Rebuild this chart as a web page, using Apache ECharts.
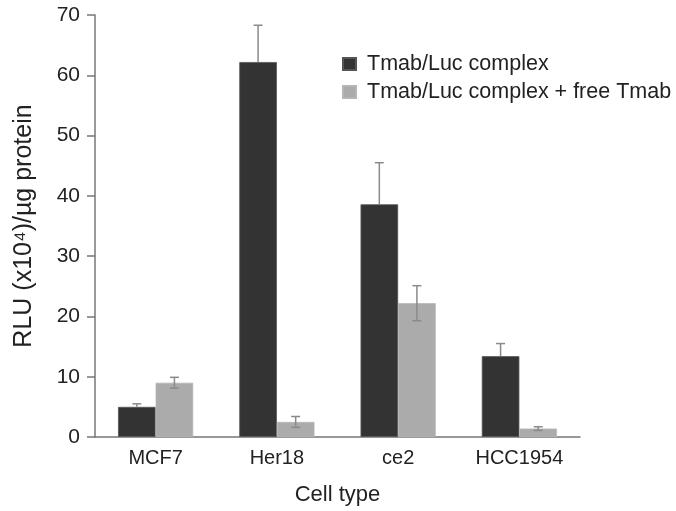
<!DOCTYPE html>
<html>
<head>
<meta charset="utf-8">
<script src="https://cdn.jsdelivr.net/npm/echarts@6/dist/echarts.min.js"></script>
<style>html,body{margin:0;padding:0;background:#fff}#c{width:676px;height:511px}</style>
</head>
<body>
<div id="c"></div>
<script>
const categories = ['MCF7', 'Her18', 'ce2', 'HCC1954'];
const seriesNames = ['Tmab/Luc complex', 'Tmab/Luc complex + free Tmab'];
const complexValues = [5.0, 62.2, 38.6, 13.4];
const complexErrors = [0.5, 6.1, 6.9, 2.1];
const freeValues = [9.0, 2.5, 22.2, 1.4];
const freeErrors = [0.9, 0.9, 2.9, 0.3];
const yTicks = [0, 10, 20, 30, 40, 50, 60, 70];

const chart = echarts.init(document.getElementById('c'));
const FONT = 'Liberation Sans, Arial, sans-serif';

function errData(vals, errs) {
  return vals.map((v, i) => [i, v, errs[i]]);
}
function makeErr(offsetFrac, upperOnly) {
  return function (params, api) {
    const i = api.value(0), v = api.value(1), e = api.value(2);
    const band = api.size([1, 0])[0];
    const x = api.coord([i, v])[0] + offsetFrac * band;
    const yTop = api.coord([i, v + e])[1];
    const yBot = upperOnly ? api.coord([i, v])[1] : api.coord([i, v - e])[1];
    const cw = 4.5;
    const style = { stroke: '#8a8a8a', lineWidth: 1.5 };
    const children = [
      { type: 'line', shape: { x1: x, y1: yTop, x2: x, y2: yBot }, style },
      { type: 'line', shape: { x1: x - cw, y1: yTop, x2: x + cw, y2: yTop }, style }
    ];
    if (!upperOnly) children.push({ type: 'line', shape: { x1: x - cw, y1: yBot, x2: x + cw, y2: yBot }, style });
    return { type: 'group', children };
  };
}

chart.setOption({
  animation: false,
  backgroundColor: '#fff',
  grid: { left: 95, right: 96, top: 15, bottom: 74, containLabel: false, outerBoundsMode: 'none' },
  legend: {
    data: seriesNames,
    orient: 'vertical',
    left: 337, top: 47,
    itemWidth: 13, itemHeight: 12, itemGap: 4,
    icon: 'rect',
    textStyle: { fontFamily: FONT, fontSize: 21.5, color: '#222', lineHeight: 24, padding: [0, 0, 0, 6] }
  },
  xAxis: {
    type: 'category',
    data: categories,
    name: 'Cell type',
    nameLocation: 'middle',
    nameGap: 47,
    nameTextStyle: { fontFamily: FONT, fontSize: 22, color: '#222' },
    axisLine: { lineStyle: { color: '#777', width: 1.5 } },
    axisTick: { show: false },
    axisLabel: { fontFamily: FONT, fontSize: 20, color: '#222', margin: 11 }
  },
  yAxis: {
    type: 'value',
    min: 0, max: 70, interval: 10,
    name: 'RLU (x10\u2074)/\u00b5g protein',
    nameLocation: 'middle',
    nameGap: 58,
    nameTextStyle: { fontFamily: FONT, fontSize: 25, color: '#222' },
    splitLine: { show: false },
    axisLine: { show: true, lineStyle: { color: '#777', width: 1.5 } },
    axisTick: { show: true, length: 8, lineStyle: { color: '#777', width: 1.5 } },
    axisLabel: { fontFamily: FONT, fontSize: 21, color: '#222', margin: 15,
      formatter: v => yTicks.includes(v) ? String(v) : '' }
  },
  series: [
    { name: seriesNames[0], type: 'bar', data: complexValues, barGap: '0%', barCategoryGap: '38%',
      itemStyle: { color: '#333333', borderColor: '#555', borderWidth: 0.8 } },
    { name: seriesNames[1], type: 'bar', data: freeValues,
      itemStyle: { color: '#ababab', borderColor: '#b5b5b5', borderWidth: 0.8 } },
    { type: 'custom', data: errData(complexValues, complexErrors), renderItem: makeErr(-0.155, true), z: 5, silent: true },
    { type: 'custom', data: errData(freeValues, freeErrors), renderItem: makeErr(0.155, false), z: 5, silent: true }
  ]
});
</script>
</body>
</html>
